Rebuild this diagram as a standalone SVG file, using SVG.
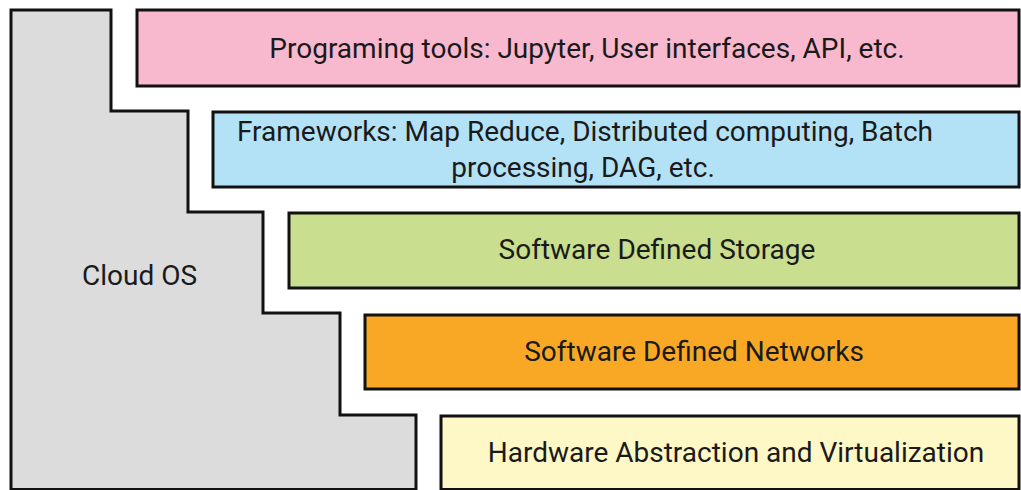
<svg xmlns="http://www.w3.org/2000/svg" width="1021" height="490" viewBox="0 0 1021 490">
<style>
.box{stroke:#111;stroke-width:3}
.t{font-family:Roboto,"Liberation Sans",sans-serif;font-size:28px;fill:#1a1a1a;text-anchor:middle}
</style>
<rect width="1021" height="490" fill="#fff"/>
<g id="cloud-os">
<path class="box" fill="#dcdcdc" d="M11,10 H111 V111 H188 V212 H263 V313 H340 V415 H416 V489.5 H11 Z"/>
<text class="t" x="139.5" y="285">Cloud OS</text>
</g>
<g id="programming-tools">
<rect class="box" fill="#f8b9cf" x="137" y="10" width="882" height="76"/>
<text class="t" x="587" y="58">Programing tools: Jupyter, User interfaces, API, etc.</text>
</g>
<g id="frameworks">
<rect class="box" fill="#b3e2f7" x="213" y="112" width="806" height="75"/>
<text class="t" x="585" y="141">Frameworks: Map Reduce, Distributed computing, Batch</text>
<text class="t" x="583" y="177">processing, DAG, etc.</text>
</g>
<g id="storage">
<rect class="box" fill="#c9de8e" x="289" y="213" width="730" height="75"/>
<text class="t" x="657" y="259">Software Defined Storage</text>
</g>
<g id="networks">
<rect class="box" fill="#f9a825" x="365" y="315" width="654" height="74"/>
<text class="t" x="694" y="361">Software Defined Networks</text>
</g>
<g id="hardware">
<rect class="box" fill="#fef7c6" x="441" y="416" width="578" height="73.5"/>
<text class="t" x="736" y="462">Hardware Abstraction and Virtualization</text>
</g>
<g id="connectors"></g>
</svg>
